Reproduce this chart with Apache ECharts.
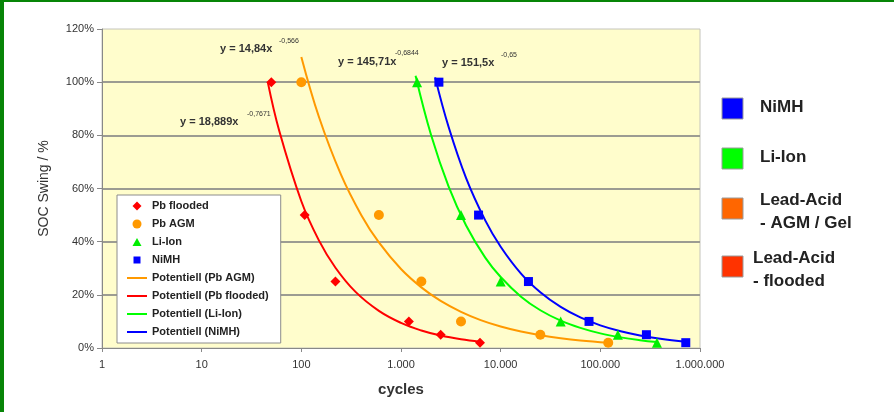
<!DOCTYPE html>
<html><head><meta charset="utf-8">
<script src="https://cdn.jsdelivr.net/npm/echarts@6/dist/echarts.min.js"></script>
<style>html,body{margin:0;padding:0;background:#fff}#c{width:894px;height:412px}</style>
</head><body><div id="c"></div>
<script>
// ---- data ----
const xTickLabels = ['1', '10', '100', '1.000', '10.000', '100.000', '1.000.000'];
const yTicks = [0, 20, 40, 60, 80, 100, 120];

const socSwing = [100, 50, 25, 10, 5, 2];
const floodedCycles = [50, 108, 220, 1200, 2500, 6200];
const agmCycles = [100, 600, 1600, 4000, 25000, 120000];
const liionCycles = [1450, 4000, 10000, 40000, 150000, 370000];
const nimhCycles = [2400, 6000, 19000, 77000, 290000, 720000];

// trend curves (points read along the drawn power trendlines)
const floodedFitX = [46, 60, 100, 150, 220, 350, 600, 1000, 1600, 2500, 4000, 6200];
const floodedFitY = [100.1, 81.7, 55.2, 40.5, 30.2, 21.1, 13.96, 9.44, 6.58, 4.67, 3.26, 2.33];
const agmFitX = [100, 150, 250, 400, 600, 1000, 1600, 2500, 4000, 6300, 10000, 16000, 25000, 40000, 63000, 120000];
const agmFitY = [109.5, 87.0, 65.2, 49.96, 39.7, 29.7, 22.8, 17.7, 13.6, 10.5, 8.08, 6.19, 4.81, 3.69, 2.85, 1.98];
const liionFitX = [1400, 2000, 3000, 4500, 7000, 10000, 16000, 25000, 40000, 63000, 100000, 160000, 250000, 370000];
const liionFitY = [102.4, 80.2, 60.8, 46.1, 34.0, 26.7, 19.3, 14.2, 10.3, 7.57, 5.51, 4.00, 2.95, 2.25];
const nimhFitX = [2200, 3000, 4500, 7000, 10000, 16000, 25000, 40000, 63000, 100000, 160000, 250000, 400000, 720000];
const nimhFitY = [101.8, 83.2, 63.9, 48.0, 38.1, 28.0, 20.98, 15.45, 11.5, 8.52, 6.28, 4.70, 3.46, 2.36];

const equations = [
  {main: 'y = 14,84x', exp: '-0,566'},
  {main: 'y = 145,71x', exp: '-0,6844'},
  {main: 'y = 151,5x', exp: '-0,65'},
  {main: 'y = 18,889x', exp: '-0,7671'}
];
const legendEntries = ['Pb flooded', 'Pb AGM', 'Li-Ion', 'NiMH',
  'Potentiell (Pb AGM)', 'Potentiell (Pb flooded)', 'Potentiell (Li-Ion)', 'Potentiell (NiMH)'];
const BOX = 'M0,0 M20,9 ';
const LINE_ICON = 'path://M0,0 L20,0 L20,2 L0,2 Z';
const legendIcons = [
  'path://' + BOX + 'M10,0 L14.5,4.5 L10,9 L5.5,4.5 Z',
  'path://' + BOX + 'M5.5,4.5 A4.5,4.5 0 1 1 14.5,4.5 A4.5,4.5 0 1 1 5.5,4.5 Z',
  'path://' + BOX + 'M10,0.5 L14.5,8.5 L5.5,8.5 Z',
  'path://' + BOX + 'M6.5,1 L13.5,1 L13.5,8 L6.5,8 Z',
  LINE_ICON, LINE_ICON, LINE_ICON, LINE_ICON];
const sideLegend = [
  {lines: ['NiMH'], color: '#0000FF'},
  {lines: ['Li-Ion'], color: '#00FF00'},
  {lines: ['Lead-Acid', '- AGM / Gel'], color: '#FF6600'},
  {lines: ['Lead-Acid', '- flooded'], color: '#FF3300'}
];

// ---- build ----
const zip = (xs, ys) => xs.map((x, i) => [x, ys[i]]);
const chart = echarts.init(document.getElementById('c'), null, {renderer: 'canvas'});
const FONT = 'Arial, "Liberation Sans", sans-serif';

function scatter(name, xs, symbol, size, color) {
  return {name, type: 'scatter', data: zip(xs, socSwing), symbol, symbolSize: size,
    itemStyle: {color, opacity: 1}, z: 4};
}
function fit(name, xs, ys, color) {
  return {name, type: 'line', data: zip(xs, ys), smooth: 0.4, symbol: 'none', showSymbol: false,
    lineStyle: {color, width: 2}, itemStyle: {color}, z: 3};
}

const eqPos = [[220, 43, 279, 38], [338, 56, 395, 50], [442, 57, 501, 52], [180, 116, 247, 111]];
const graphics = [
  {type: 'rect', shape: {x: 0, y: 0, width: 4, height: 412}, style: {fill: '#078507'}, z: 100},
  {type: 'rect', shape: {x: 0, y: 0, width: 894, height: 2}, style: {fill: '#078507'}, z: 100}
];
equations.forEach((e, i) => {
  const p = eqPos[i];
  graphics.push({type: 'text', x: p[0], y: p[1], z: 50,
    style: {text: e.main, font: 'bold 11px ' + FONT, fill: '#333'}});
  graphics.push({type: 'text', x: p[2], y: p[3], z: 50,
    style: {text: e.exp, font: '7px ' + FONT, fill: '#333'}});
});
const sideTop = [98, 148, 198, 256];
sideLegend.forEach((s, i) => {
  const y = sideTop[i];
  graphics.push({type: 'rect', shape: {x: 722, y: y, width: 21, height: 21},
    style: {fill: s.color, stroke: '#9a9a9a', lineWidth: 1}, z: 50});
  const tx = s.lines.length > 1 && i === 3 ? 753 : 760;
  s.lines.forEach((t, j) => {
    graphics.push({type: 'text', x: tx, y: (s.lines.length === 1 ? y + 1 : y - 6) + j * 23, z: 50,
      style: {text: t, font: 'bold 17px ' + FONT, fill: '#222'}});
  });
});

chart.setOption({
  backgroundColor: '#ffffff',
  animation: false,
  textStyle: {fontFamily: FONT},
  grid: {left: 102, top: 29, right: 194, bottom: 64, containLabel: false, outerBoundsMode: 'none',
    show: true, backgroundColor: '#FFFDCC', borderColor: '#c4c4bc', borderWidth: 1},
  xAxis: {
    type: 'log', logBase: 10, min: 1, max: 1000000,
    name: 'cycles', nameLocation: 'middle', nameGap: 34,
    nameTextStyle: {fontSize: 15, fontWeight: 'bold', color: '#333', fontFamily: FONT},
    axisLine: {show: true, lineStyle: {color: '#888', width: 1}},
    axisTick: {show: true, length: 4, lineStyle: {color: '#888'}},
    splitLine: {show: false},
    minorTick: {show: false},
    axisLabel: {fontSize: 11, color: '#333', margin: 11, showMaxLabel: true, showMinLabel: true,
      formatter: v => xTickLabels[Math.round(Math.log10(v))]}
  },
  yAxis: {
    type: 'value', min: yTicks[0], max: yTicks[yTicks.length - 1], interval: 20,
    name: 'SOC Swing / %', nameLocation: 'middle', nameGap: 51, nameRotate: 90,
    nameTextStyle: {fontSize: 14, color: '#333', fontFamily: FONT},
    axisLine: {show: true, lineStyle: {color: '#888', width: 1}},
    axisTick: {show: true, length: 5, lineStyle: {color: '#888'}},
    splitLine: {show: true, showMinLine: false, showMaxLine: false, lineStyle: {color: '#9c9c92', width: 2}},
    axisLabel: {fontSize: 11, color: '#333', margin: 8, formatter: '{value}%'}
  },
  legend: {
    data: legendEntries.map((n, i) => ({name: n, icon: legendIcons[i]})),
    orient: 'vertical', left: 117, top: 195,
    padding: [5, 12, 5, 10], itemGap: 6, itemWidth: 20, itemHeight: 9,
    backgroundColor: '#ffffff', borderColor: '#8c8c8c', borderWidth: 1,
    textStyle: {fontSize: 11, fontWeight: 'bold', color: '#222', lineHeight: 12, fontFamily: FONT},
    selectedMode: false, z: 20
  },
  series: [
    scatter('Pb flooded', floodedCycles, 'diamond', 10, '#FF0000'),
    scatter('Pb AGM', agmCycles, 'circle', 10, '#FF9900'),
    scatter('Li-Ion', liionCycles, 'triangle', 10, '#00EE00'),
    scatter('NiMH', nimhCycles, 'rect', 9, '#0000FF'),
    fit('Potentiell (Pb AGM)', agmFitX, agmFitY, '#FF9900'),
    fit('Potentiell (Pb flooded)', floodedFitX, floodedFitY, '#FF0000'),
    fit('Potentiell (Li-Ion)', liionFitX, liionFitY, '#00FF00'),
    fit('Potentiell (NiMH)', nimhFitX, nimhFitY, '#0000FF')
  ],
  graphic: graphics
});
</script></body></html>
